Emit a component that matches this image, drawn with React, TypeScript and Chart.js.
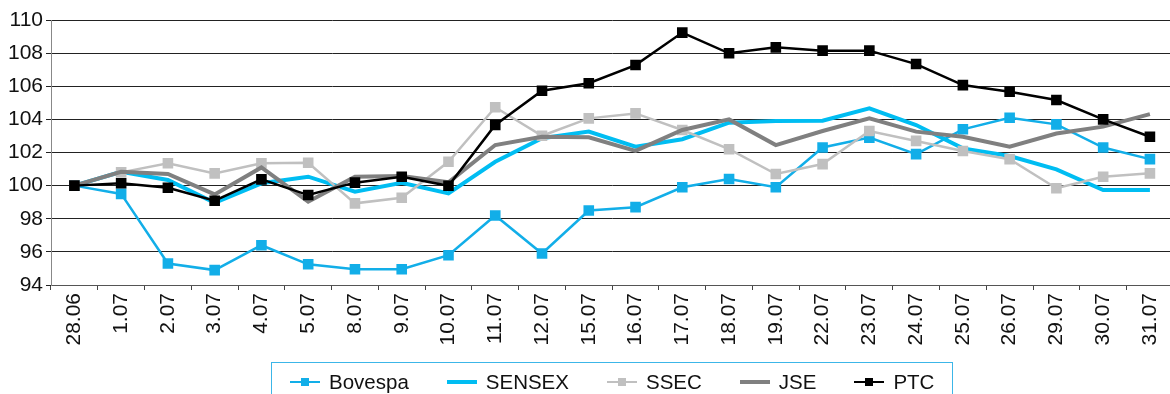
import React, { useEffect, useRef } from "react";
import { Chart, registerables } from "chart.js";

Chart.register(...registerables);

const labels = ["28.06", "1.07", "2.07", "3.07", "4.07", "5.07", "8.07", "9.07", "10.07", "11.07", "12.07", "15.07", "16.07", "17.07", "18.07", "19.07", "22.07", "23.07", "24.07", "25.07", "26.07", "29.07", "30.07", "31.07"];

const bovespa = [100, 99.5, 95.3, 94.9, 96.4, 95.25, 94.95, 94.95, 95.8, 98.2, 95.9, 98.5, 98.7, 99.9, 100.4, 99.9, 102.3, 102.9, 101.9, 103.4, 104.1, 103.7, 102.3, 101.6];
const sensex = [100, 100.84, 100.34, 98.97, 100.14, 100.54, 99.63, 100.17, 99.53, 101.44, 102.86, 103.26, 102.35, 102.8, 103.8, 103.9, 103.92, 104.67, 103.66, 102.25, 101.79, 100.98, 99.73, 99.73];
const ssec = [100, 100.8, 101.35, 100.74, 101.35, 101.38, 98.93, 99.27, 101.44, 104.73, 103.01, 104.06, 104.36, 103.36, 102.2, 100.7, 101.3, 103.3, 102.7, 102.09, 101.59, 99.84, 100.54, 100.74];
const jse = [100, 100.84, 100.7, 99.47, 101.1, 99.03, 100.54, 100.58, 100.2, 102.45, 102.95, 102.92, 102.1, 103.36, 104.0, 102.45, 103.3, 104.06, 103.26, 102.95, 102.35, 103.15, 103.56, 104.32];
const ptc = [100, 100.14, 99.87, 99.09, 100.38, 99.43, 100.18, 100.54, 99.99, 103.66, 105.73, 106.18, 107.28, 109.24, 107.99, 108.35, 108.15, 108.15, 107.34, 106.07, 105.67, 105.17, 104.0, 102.95];

const yMin = 94;
const yMax = 110;
const yStep = 2;

const seriesNames = ["Bovespa", "SENSEX", "SSEC", "JSE", "PTC"];
const seriesData = [bovespa, sensex, ssec, jse, ptc];
const seriesColors = ["#12aee8", "#00bdf2", "#c0c0c0", "#808080", "#000000"];
const seriesWidths = [2.5, 4, 2.5, 4, 2.5];
const seriesMarkers = [true, false, true, false, true];

const FONT = "'Liberation Sans', Arial, Helvetica, sans-serif";

export default function App() {
  const canvasRef = useRef<HTMLCanvasElement | null>(null);

  useEffect(() => {
    const canvas = canvasRef.current;
    if (!canvas) return;
    const chart = new Chart(canvas, {
      type: "line",
      data: {
        labels,
        datasets: seriesNames.map((name, i) => ({
          label: name,
          data: seriesData[i],
          borderColor: seriesColors[i],
          backgroundColor: seriesColors[i],
          borderWidth: seriesWidths[i],
          pointStyle: "rect",
          pointRadius: seriesMarkers[i] ? 7.5 : 0,
          pointHoverRadius: seriesMarkers[i] ? 7.5 : 0,
          pointBorderWidth: 0,
          pointBackgroundColor: seriesColors[i],
          tension: 0,
          order: seriesNames.length - i,
        })),
      },
      options: {
        responsive: false,
        animation: false,
        devicePixelRatio: 1,
        layout: { padding: { left: 0, right: 16.7, top: 20, bottom: 0 } },
        plugins: {
          legend: { display: false },
          title: { display: false },
          tooltip: { enabled: false },
        },
        scales: {
          x: {
            type: "category",
            offset: true,
            afterFit: (scale: any) => {
              scale.height = 109;
            },
            grid: {
              offset: true,
              drawOnChartArea: false,
              drawTicks: true,
              tickLength: 5,
              color: "#444",
            },
            border: { color: "#555", width: 1 },
            ticks: {
              autoSkip: false,
              maxRotation: 90,
              minRotation: 90,
              padding: 3,
              color: "#111",
              font: { family: FONT, size: 21 },
            },
          },
          y: {
            min: yMin,
            max: yMax,
            afterFit: (scale: any) => {
              scale.width = 51;
            },
            grid: {
              color: "#222",
              lineWidth: 1,
              drawTicks: true,
              tickLength: 5,
            },
            border: { color: "#888", width: 1 },
            ticks: {
              stepSize: yStep,
              padding: 3,
              color: "#111",
              font: { family: FONT, size: 21 },
            },
          },
        },
      },
    });
    return () => chart.destroy();
  }, []);

  const legendItem = (i: number) => (
    <div key={i} style={{ display: "flex", alignItems: "center", marginRight: 38 }}>
      <div style={{ position: "relative", width: 30, height: 20, marginRight: 9 }}>
        <div
          style={{
            position: "absolute",
            left: 0,
            width: 30,
            top: 10 - seriesWidths[i] / 2,
            height: seriesWidths[i],
            background: seriesColors[i],
          }}
        />
        {seriesMarkers[i] ? (
          <div
            style={{
              position: "absolute",
              left: 11,
              top: 6,
              width: 8,
              height: 8,
              background: seriesColors[i],
            }}
          />
        ) : null}
      </div>
      <span style={{ fontFamily: FONT, fontSize: 20.5, color: "#111", lineHeight: "20px" }}>
        {seriesNames[i]}
      </span>
    </div>
  );

  return (
    <div style={{ position: "absolute", left: 0, top: 0, width: 1170, height: 394, overflow: "hidden", background: "#fff" }}>
      <canvas ref={canvasRef} width={1190} height={394} style={{ position: "absolute", left: 0, top: 0, width: 1190, height: 394 }} />
      <div
        style={{
          position: "absolute",
          left: 271,
          top: 362,
          width: 682,
          height: 50,
          border: "1.5px solid #3cb6e8",
          boxSizing: "border-box",
          display: "flex",
          alignItems: "flex-start",
          paddingLeft: 18,
          paddingTop: 9,
        }}
      >
        {seriesNames.map((_, i) => legendItem(i))}
      </div>
    </div>
  );
}
